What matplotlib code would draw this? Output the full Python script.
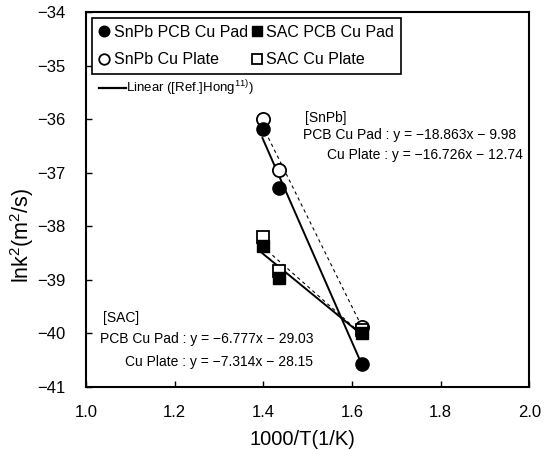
import matplotlib
matplotlib.use("Agg")
import matplotlib.pyplot as plt
from matplotlib.lines import Line2D

plt.rcParams['font.family'] = ['Liberation Sans', 'DejaVu Sans']
plt.rcParams['mathtext.fontset'] = 'custom'
plt.rcParams['mathtext.rm'] = 'Liberation Sans'
plt.rcParams['mathtext.it'] = 'Liberation Sans'

# Data points
x_vals = [1.40, 1.435, 1.622]
snpb_pad = [-36.18, -37.28, -40.58]
snpb_plate = [-36.0, -36.95, -39.88]
sac_pad = [-38.37, -38.97, -40.0]
sac_plate = [-38.2, -38.83, -39.93]

# Linear fits (from the equations printed on the chart)
fit_x = [1.398, 1.622]
snpb_pad_fit = (-18.863, -9.98)
snpb_plate_fit = (-16.726, -12.74)
sac_pad_fit = (-6.777, -29.03)
sac_plate_fit = (-7.314, -28.15)

x_ticks = [1.0, 1.2, 1.4, 1.6, 1.8, 2.0]
y_ticks = [-41, -40, -39, -38, -37, -36, -35, -34]

fig = plt.figure(figsize=(5.45, 4.51), dpi=100)
ax = fig.add_axes([0.158, 0.142, 0.813, 0.831])

def fit_line(coef):
    return [coef[0] * v + coef[1] for v in fit_x]

ax.plot(fit_x, fit_line(snpb_plate_fit), color='black', lw=0.8, ls=(0, (3, 3)), zorder=2)
ax.plot(fit_x, fit_line(sac_plate_fit), color='black', lw=0.8, ls=(0, (3, 3)), zorder=2)
ax.plot(fit_x, fit_line(snpb_pad_fit), color='black', lw=1.4, zorder=2)
ax.plot(fit_x, fit_line(sac_pad_fit), color='black', lw=1.4, zorder=2)

h_co = ax.plot(x_vals, snpb_plate, 'o', ms=9.5, mfc='white', mec='black', mew=1.3, zorder=3, ls='none')[0]
h_so = ax.plot(x_vals, sac_plate, 's', ms=9, mfc='white', mec='black', mew=1.3, zorder=3, ls='none')[0]
h_cf = ax.plot(x_vals, snpb_pad, 'o', ms=9.5, mfc='black', mec='black', zorder=4, ls='none')[0]
h_sf = ax.plot(x_vals, sac_pad, 's', ms=9, mfc='black', mec='black', zorder=4, ls='none')[0]

ax.set_xlim(1.0, 2.0)
ax.set_ylim(-41, -34)
ax.set_xticks(x_ticks)
ax.set_xticklabels([f"{v:.1f}" for v in x_ticks])
ax.set_yticks(y_ticks)
ax.tick_params(direction='in', length=4, width=1, labelsize=12)
ax.tick_params(axis='x', pad=13)
ax.tick_params(axis='y', pad=15)
for s in ax.spines.values():
    s.set_linewidth(1.5)

ax.set_xlabel("1000/T(1/K)", fontsize=14.5)
ax.xaxis.set_label_coords(0.488, -0.115)
ax.set_ylabel(r"lnk$^2$(m$^2$/s)", fontsize=15.5)
ax.yaxis.set_label_coords(-0.112, 0.405)

leg = ax.legend([h_cf, h_co, h_sf, h_so],
                ["SnPb PCB Cu Pad", "SnPb Cu Plate", "SAC PCB Cu Pad", "SAC Cu Plate"],
                ncol=2, loc='upper left', bbox_to_anchor=(0.014, 0.984), borderaxespad=0,
                fancybox=False, edgecolor='black', framealpha=1, fontsize=11.5,
                handlelength=0.7, handletextpad=0.25, columnspacing=0.2,
                markerscale=0.8, borderpad=0.4, labelspacing=0.8)
leg.get_frame().set_linewidth(1.2)
ax.add_artist(leg)

leg2 = ax.legend([Line2D([0], [0], color='black', lw=1.6)],
                 [r"Linear ([Ref.]Hong$^{\mathrm{11)}}$)"],
                 loc='center left', bbox_to_anchor=(0.018, 0.797), borderaxespad=0,
                 frameon=False, fontsize=9.5, handlelength=2.0, handletextpad=0.05)

fs = 10
ax.text(1.493, -35.98, "[SnPb]", fontsize=fs, va='center', ha='left')
ax.text(1.489, -36.29, "PCB Cu Pad : y = −18.863x − 9.98", fontsize=fs, va='center', ha='left')
ax.text(1.543, -36.67, "Cu Plate : y = −16.726x − 12.74", fontsize=fs, va='center', ha='left')
ax.text(1.038, -39.71, "[SAC]", fontsize=fs, va='center', ha='left')
ax.text(1.032, -40.10, "PCB Cu Pad : y = −6.777x − 29.03", fontsize=fs, va='center', ha='left')
ax.text(1.088, -40.53, "Cu Plate : y = −7.314x − 28.15", fontsize=fs, va='center', ha='left')

fig.savefig("out.png", dpi=100)
